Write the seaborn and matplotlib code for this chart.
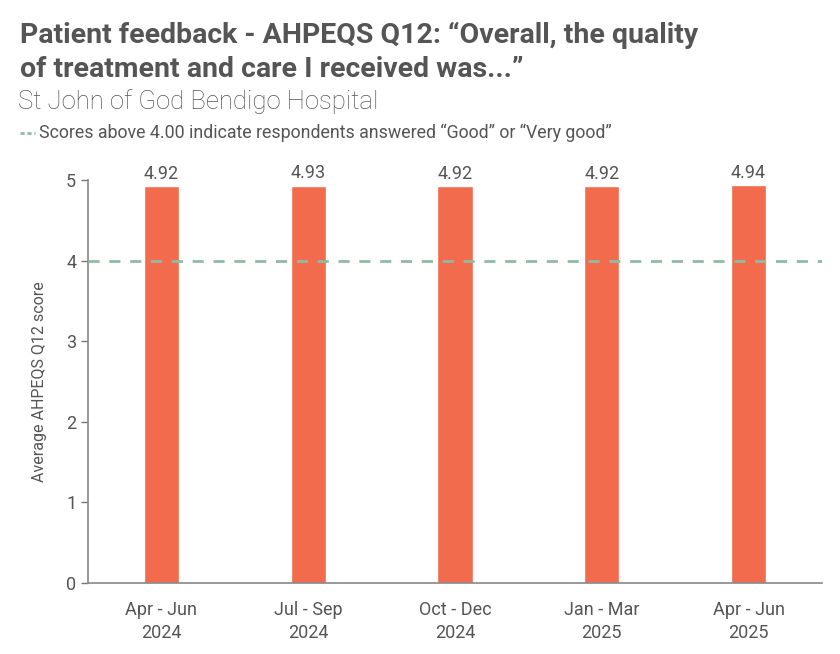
import matplotlib
matplotlib.use('Agg')
import matplotlib.pyplot as plt
import pandas as pd
import seaborn as sns

quarters = ['Apr - Jun\n2024', 'Jul - Sep\n2024', 'Oct - Dec\n2024', 'Jan - Mar\n2025', 'Apr - Jun\n2025']
scores = [4.92, 4.93, 4.92, 4.92, 4.94]
threshold = 4.0

df = pd.DataFrame({'quarter': quarters, 'score': scores})

sns.set_style('white')
plt.rcParams['font.family'] = ['Roboto', 'DejaVu Sans']
txt = '#555555'

fig = plt.figure(figsize=(8.4, 6.54), dpi=100)
ax = fig.add_axes([0.1048, 0.1086, 0.8738, 0.6162])

sns.barplot(data=df, x='quarter', y='score', color='#f26b4c', width=0.24,
            saturation=1, ax=ax, zorder=2)
ax.axhline(threshold, color='#8fbba5', lw=2, ls=(0, (4, 3.5)), zorder=3)

for i, v in enumerate(scores):
    ax.text(i, v + 0.04, f'{v:.2f}', ha='center', va='bottom', fontsize=13,
            color=txt, clip_on=False)

ax.set_xlim(-0.5, 4.5)
ax.set_ylim(0, 5)
ax.set_yticks([0, 1, 2, 3, 4, 5])
ax.set_xlabel('')
ax.set_ylabel('Average AHPEQS Q12 score', fontsize=11.5, color=txt, labelpad=14)
ax.tick_params(axis='both', colors=txt, labelsize=13)
ax.tick_params(axis='y', length=5, width=1, color='#777777', left=True)
ax.tick_params(axis='x', length=0, pad=13)
for lbl in ax.get_xticklabels():
    lbl.set_linespacing(1.35)
for s in ['top', 'right']:
    ax.spines[s].set_visible(False)
for s in ['left', 'bottom']:
    ax.spines[s].set_color('#888888')
    ax.spines[s].set_linewidth(1.2)

fig.text(0.024, 0.966, 'Patient feedback - AHPEQS Q12: \u201cOverall, the quality\nof treatment and care I received was...\u201d',
         fontsize=20.5, fontweight='bold', color=txt, va='top', linespacing=1.3)
fig.text(0.022, 0.845, 'St John of God Bendigo Hospital', fontsize=18.5, color=txt,
         va='center', fontweight='light')
fig.lines.append(plt.Line2D([0.024, 0.042], [0.797, 0.797], transform=fig.transFigure,
                            color='#8fbba5', lw=2, ls=(0, (1.5, 1))))
fig.text(0.046, 0.797, 'Scores above 4.00 indicate respondents answered \u201cGood\u201d or \u201cVery good\u201d',
         fontsize=12.8, color=txt, va='center')

fig.savefig('out.png', dpi=100)
